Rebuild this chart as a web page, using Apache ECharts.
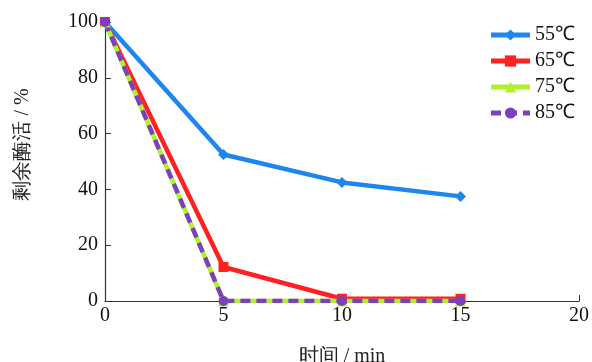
<!DOCTYPE html>
<html lang="zh">

<head>
  <meta charset="UTF-8">
  <title>剩余酶活</title>
  <style>
    html, body { margin: 0; padding: 0; background: #fff; }
    #main { width: 592px; height: 362px; }
  </style>
</head>

<body>
  <div id="main"></div>
  <script src="https://cdn.jsdelivr.net/npm/echarts@6/dist/echarts.min.js"></script>
  <script>
    // 时间 (min)
    const times = [0, 5, 10, 15];
    // 各温度下的剩余酶活 (%)
    const t55 = [100, 52.5, 42.5, 37.5];
    const t65 = [100, 12.2, 0.8, 0.8];
    const t75 = [100, 0, 0, 0];
    const t85 = [100, 0, 0, 0];
    const names = ['55℃', '65℃', '75℃', '85℃'];

    const font = '"Liberation Serif", "Times New Roman", serif';
    const axisColor = '#333';

    const pair = arr => times.map((t, i) => [t, arr[i]]);

    const myChart = echarts.init(document.getElementById('main'));

    function line(name, data, color, symbol, size, dash) {
      return {
        name, type: 'line', data: pair(data),
        symbol, symbolSize: size,
        itemStyle: { color },
        lineStyle: { color, width: 4.5, type: dash || 'solid' },
        animation: false
      };
    }

    const option = {
      animation: false,
      grid: { left: 105, right: 13, top: 22, bottom: 61, containLabel: false, outerBoundsMode: 'none' },
      legend: {
        orient: 'vertical',
        right: 12,
        top: 20,
        itemWidth: 39,
        itemHeight: 14,
        itemGap: 6,
        lineStyle: { width: 5 },
        textStyle: { fontFamily: font, fontSize: 20, color: '#111' },
        data: names
      },
      xAxis: {
        type: 'value', min: 0, max: 20, interval: 5,
        name: '时间 / min', nameLocation: 'middle', nameGap: 46,
        nameTextStyle: { fontFamily: font, fontSize: 20, color: '#222' },
        axisLine: { lineStyle: { color: axisColor, width: 1.2 } },
        axisTick: { inside: true, length: 6, lineStyle: { color: axisColor } },
        axisLabel: { fontFamily: font, fontSize: 20, color: '#111', margin: 5 },
        splitLine: { show: false }
      },
      yAxis: {
        type: 'value', min: 0, max: 100, interval: 20,
        name: '剩余酶活 / %', nameLocation: 'middle', nameGap: 72,
        nameTextStyle: { fontFamily: font, fontSize: 20, color: '#222', padding: [0, 0, 0, 34] },
        axisLine: { show: true, lineStyle: { color: axisColor, width: 1.2 } },
        axisTick: { show: true, inside: true, length: 6, lineStyle: { color: axisColor } },
        axisLabel: { fontFamily: font, fontSize: 20, color: '#111', margin: 7 },
        splitLine: { show: false }
      },
      series: [
        line(names[0], t55, '#1f86f0', 'diamond', 11),
        line(names[1], t65, '#ff2020', 'rect', 10),
        line(names[2], t75, '#aef22a', 'triangle', 11),
        line(names[3], t85, '#7b3fc0', 'circle', 10, [10, 6])
      ]
    };

    myChart.setOption(option);
  </script>
</body>

</html>
